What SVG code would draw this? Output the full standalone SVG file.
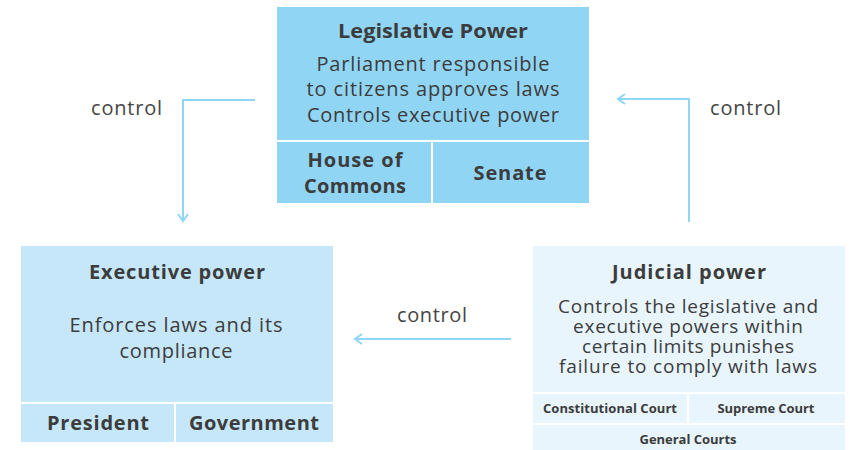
<svg xmlns="http://www.w3.org/2000/svg" width="850" height="450" viewBox="0 0 850 450">
  <defs>
    <style>
      text { font-family: "Open Sans", "Noto Sans", "DejaVu Sans", sans-serif; fill: #3c3c3c; text-anchor: middle; }
      .title { font-size: 19px; font-weight: 700; }
      .title2 { font-size: 20px; font-weight: 700; }
      .body { font-size: 20px; }
      .jbody { font-size: 19px; }
      .sub { font-size: 20px; font-weight: 700; }
      .small { font-size: 13px; font-weight: 700; }
      .label { font-size: 20px; text-anchor: start; fill: #454545; }
      .leg { fill: #91d5f4; }
      .exe { fill: #c5e7f9; }
      .jud { fill: #e8f5fc; }
      .conn { fill: none; stroke: #8fd5f5; stroke-width: 2; }
    </style>
    <marker id="chev" viewBox="0 0 12 12" refX="10" refY="6" markerWidth="12" markerHeight="12" markerUnits="userSpaceOnUse" orient="auto">
      <path d="M3 1 L10 6 L3 11" fill="none" stroke="#8fd5f5" stroke-width="2"/>
    </marker>
  </defs>

  <rect width="850" height="450" fill="#ffffff"/>

  <!-- Legislative branch -->
  <g id="legislative">
    <rect class="leg" x="277" y="7" width="312" height="133"/>
    <rect class="leg" x="277" y="142" width="154" height="61"/>
    <rect class="leg" x="433" y="142" width="156" height="61"/>
    <text class="title" x="433" y="38" textLength="190" lengthAdjust="spacingAndGlyphs">Legislative Power</text>
    <text class="body" x="433" y="71" textLength="233">Parliament responsible</text>
    <text class="body" x="433" y="96" textLength="253">to citizens approves laws</text>
    <text class="body" x="433" y="122" textLength="252">Controls executive power</text>
    <text class="sub" x="355" y="167" textLength="95">House of</text>
    <text class="sub" x="355" y="193" textLength="102">Commons</text>
    <text class="sub" x="510" y="180" textLength="73">Senate</text>
  </g>

  <!-- Executive branch -->
  <g id="executive">
    <rect class="exe" x="21" y="246" width="312" height="156"/>
    <rect class="exe" x="21" y="404" width="153" height="38"/>
    <rect class="exe" x="176" y="404" width="157" height="38"/>
    <text class="title2" x="177" y="279" textLength="176">Executive power</text>
    <text class="body" x="176" y="332" textLength="213">Enforces laws and its</text>
    <text class="body" x="176" y="358" textLength="113">compliance</text>
    <text class="sub" x="98" y="430" textLength="102">President</text>
    <text class="sub" x="254" y="430" textLength="130">Government</text>
  </g>

  <!-- Judicial branch -->
  <g id="judicial">
    <rect class="jud" x="533" y="246" width="312" height="146"/>
    <rect class="jud" x="533" y="394" width="154" height="29"/>
    <rect class="jud" x="689" y="394" width="156" height="29"/>
    <rect class="jud" x="533" y="425" width="312" height="25"/>
    <text class="title2" x="689" y="279" textLength="154">Judicial power</text>
    <text class="jbody" x="688" y="313" textLength="260">Controls the legislative and</text>
    <text class="jbody" x="688" y="333" textLength="230">executive powers within</text>
    <text class="jbody" x="688" y="353" textLength="212">certain limits punishes</text>
    <text class="jbody" x="688" y="373" textLength="258">failure to comply with laws</text>
    <text class="small" x="610" y="413" textLength="134">Constitutional Court</text>
    <text class="small" x="766" y="413" textLength="97">Supreme Court</text>
    <text class="small" x="688" y="444" textLength="97">General Courts</text>
  </g>

  <!-- Control relations -->
  <g id="connectors">
    <path class="conn" d="M255 100 H183 V221" marker-end="url(#chev)"/>
    <path class="conn" d="M689 222 V99 H618" marker-end="url(#chev)"/>
    <path class="conn" d="M511 339 H355" marker-end="url(#chev)"/>
    <text class="label" x="91" y="115" textLength="71">control</text>
    <text class="label" x="710" y="115" textLength="71">control</text>
    <text class="label" x="397" y="322" textLength="70">control</text>
  </g>
</svg>
